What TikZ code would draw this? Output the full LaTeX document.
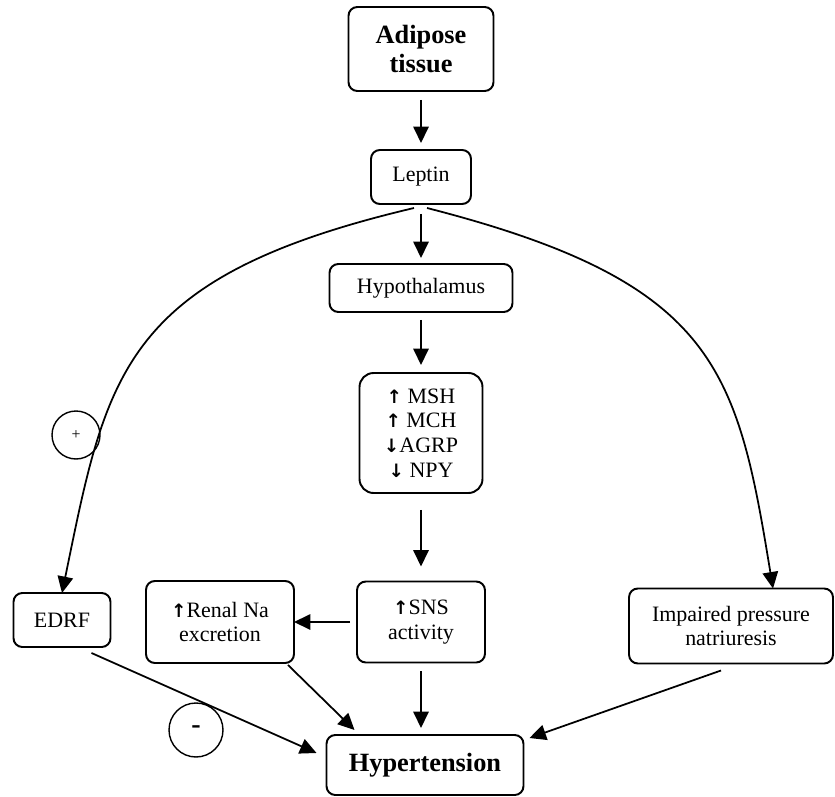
\documentclass[tikz,border=0pt]{standalone}
\usepackage{fontspec}
\setmainfont{Liberation Serif}
\newfontfamily\arrowfont{DejaVu Sans}
\usetikzlibrary{arrows.meta,calc}

\newcommand{\incr}{{\arrowfont\bfseries\fontsize{10.5}{10}\selectfont ↑}}
\newcommand{\decr}{{\arrowfont\bfseries\fontsize{10.5}{10}\selectfont ↓}}

\tikzset{
  box/.style={draw, line width=1.1pt, rounded corners=5pt, align=center,
    inner sep=0pt, outer sep=0pt, font=\fontsize{12.5}{14}\selectfont},
  bigbox/.style={box, font=\fontsize{15}{17}\selectfont\bfseries},
  arr/.style={line width=1pt, -{Triangle[length=0.33cm,width=0.31cm]}},
  sign/.style={draw, circle, line width=0.8pt, inner sep=0pt}
}

\begin{document}
\begin{tikzpicture}[x=0.02cm,y=-0.02cm]
        \useasboundingbox (0,0) rectangle (835,797);
        % boxes down the middle
        \node[bigbox, minimum width=2.9cm, minimum height=1.68cm] (adipose) at (421,49) {Adipose\\tissue};
        \node[box, minimum width=2.0cm, minimum height=1.08cm] (leptin) at (421,177) {Leptin};
        \node[box, minimum width=3.66cm, minimum height=0.96cm] (hypo) at (421,288) {Hypothalamus};
        \node[box, rounded corners=8pt, minimum width=2.46cm, minimum height=2.4cm] (msh) at (421,433)
            {\incr\ MSH\\\incr\ MCH\\\decr AGRP\\\decr\ NPY};
        \node[box, minimum width=2.56cm, minimum height=1.62cm] (sns) at (421,622) {\incr SNS\\activity};
        \node[box, minimum width=2.96cm, minimum height=1.64cm] (renal) at (220,622) {\incr Renal Na\\excretion};
        \node[box, minimum width=1.94cm, minimum height=1.08cm] (edrf) at (62,620) {EDRF};
        \node[box, minimum width=4.08cm, minimum height=1.5cm] (impaired) at (731,626) {Impaired pressure\\natriuresis};
        \node[bigbox, minimum width=3.94cm, minimum height=1.2cm] (hyper) at (425,765) {Hypertension};
        % signs
        \node[sign, minimum size=0.96cm, font=\fontsize{9}{9}\selectfont] (plus) at (76,435) {+};
        \node[sign, minimum size=1.08cm, font=\fontsize{16}{16}\selectfont\bfseries] (minus) at (196,730) {-};
        % main chain
        \draw[arr, shorten <=0.18cm, shorten >=0.14cm] (adipose) -- (leptin);
        \draw[arr, shorten <=0.2cm, shorten >=0.12cm] (leptin) -- (hypo);
        \draw[arr, shorten <=0.16cm, shorten >=0.16cm] (hypo) -- (msh);
        \draw[arr, shorten <=0.34cm, shorten >=0.3cm] (msh) -- (sns);
        \draw[arr, shorten <=0.18cm, shorten >=0.14cm] (sns.south) -- (sns.south |- hyper.north);
        \draw[arr, shorten <=0.14cm] (sns.west) -- (renal.east);
        % branches from leptin
        \coordinate (lfork) at (414,208);
        \coordinate (rfork) at (427,208);
        \draw[arr] (lfork) .. controls (121,277) and (107,374) .. (edrf.north);
        \draw[arr] (rfork) .. controls (716,282) and (737,368) .. ($(impaired.north)+(42,0)$);
        % into hypertension
        \draw[arr] ($(edrf.south east)+(-19,6)$) -- ($(hyper.west)+(-10,-12)$);
        \draw[arr] ($(renal.south east)+(-6,2)$) -- ($(hyper.north west)+(28,-5)$);
        \draw[arr] ($(impaired.south)+(-10,7)$) -- ($(hyper.north east)+(6,3)$);
    \end{tikzpicture}
\end{document}
